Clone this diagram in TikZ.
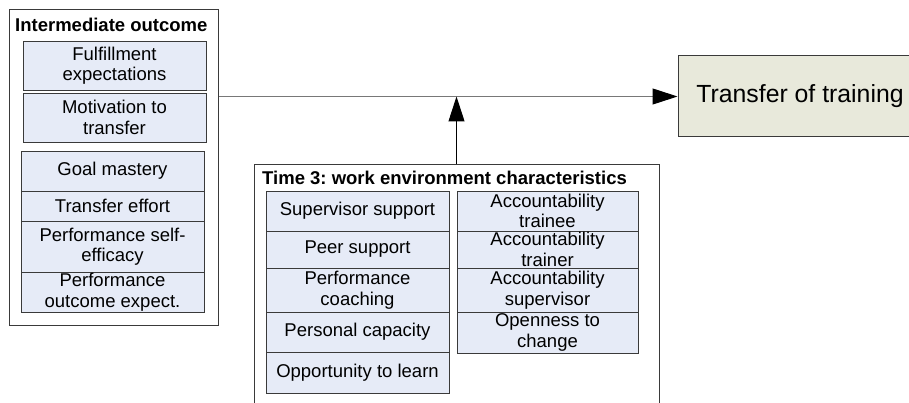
\documentclass[tikz,border=0pt]{standalone}
\usepackage{fontspec}
\setmainfont{Liberation Sans}
\usetikzlibrary{arrows.meta}
\definecolor{cellfill}{HTML}{E6EBF7}
\definecolor{outfill}{HTML}{E8E9DB}
\definecolor{edge}{HTML}{3A3A3A}
\definecolor{wire}{HTML}{787878}
\frenchspacing
\begin{document}
\begin{tikzpicture}[x=1pt,y=-1pt,
  frame/.style={draw=edge, line width=1pt, fill=white, inner sep=0pt},
  cell/.style={draw=edge, line width=0.9pt, fill=cellfill, inner sep=0pt,
    font=\fontsize{18.5}{20.5}\selectfont, align=center},
  heading/.style={font=\fontsize{18.5}{21}\selectfont\bfseries, inner sep=0pt, anchor=base west},
  outcome/.style={draw=edge, line width=1pt, fill=outfill, inner sep=0pt,
    font=\fontsize{24.8}{28}\selectfont},
  link/.style={line width=1pt, -{Triangle[length=25pt,width=16pt,black]}}]
\useasboundingbox (0,0) rectangle (909,403);
\clip (0,0) rectangle (909,403);

% outer frames
\node[frame, minimum width=209pt, minimum height=315pt] (io) at (113.5,167.5) {};
\node[heading] (iot) at (15,32) {Intermediate outcome};
\node[frame, minimum width=405pt, minimum height=255pt] (t3) at (456.5,292.5) {};
\node[heading] (t3t) at (262,185) {Time 3: work environment characteristics};

% intermediate outcome variables
\node[cell, minimum width=183pt, minimum height=49pt] (ful) at (114.5,65.5) {Fulfillment\\expectations};
\node[cell, minimum width=183pt, minimum height=49pt] (mot) at (114.5,117.5) {Motivation to\\transfer};
\node[cell, minimum width=183pt, minimum height=40pt] (goal) at (112.5,171) {Goal mastery};
\node[cell, minimum width=183pt, minimum height=30pt] (eff) at (112.5,206) {Transfer effort};
\node[cell, minimum width=183pt, minimum height=51pt] (pse) at (112.5,246.5) {Performance self-\\efficacy};
\node[cell, minimum width=183pt, minimum height=40pt] (poe) at (112.5,292) {Performance\\outcome expect.};

% work environment, left column
\node[cell, minimum width=183pt, minimum height=40pt] (sup) at (357.5,211) {Supervisor support};
\node[cell, minimum width=183pt, minimum height=37pt] (peer) at (357.5,249.5) {Peer support};
\node[cell, minimum width=183pt, minimum height=44pt] (coach) at (357.5,290) {Performance\\coaching};
\node[cell, minimum width=183pt, minimum height=40pt] (cap) at (357.5,332) {Personal capacity};
\node[cell, minimum width=183pt, minimum height=41pt] (opp) at (357.5,372.5) {Opportunity to learn};

% work environment, right column
\node[cell, minimum width=181pt, minimum height=40pt] (acct) at (547.5,211) {Accountability\\trainee};
\node[cell, minimum width=181pt, minimum height=37pt] (acctr) at (547.5,249.5) {Accountability\\trainer};
\node[cell, minimum width=181pt, minimum height=44pt] (accsu) at (547.5,290) {Accountability\\supervisor};
\node[cell, minimum width=181pt, minimum height=41pt] (open) at (547.5,332.5) {Openness to\\change};

% outcome
\node[outcome, minimum width=244pt, minimum height=81pt] (tr) at (800,96.5) {Transfer of training};

% connectors
\draw[link, draw=wire] (io.east |- tr.west) -- (tr.west);
\draw[link, draw=black] (t3.north) -- (t3.north |- tr.west);
\end{tikzpicture}
\end{document}
